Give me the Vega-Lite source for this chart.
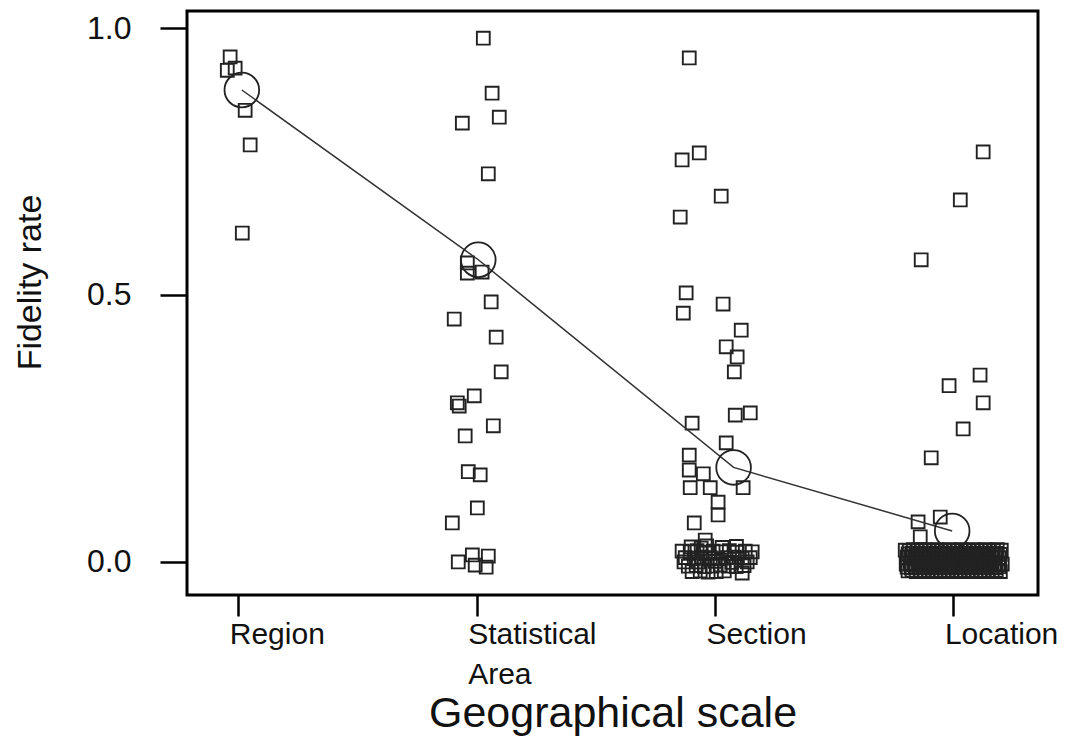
{
  "$schema": "https://vega.github.io/schema/vega-lite/v6.json",
  "width": 851,
  "height": 584,
  "autosize": {"type": "none"},
  "padding": {"left": 187, "top": 11, "right": 27, "bottom": 155},
  "background": "white",
  "config": {
    "view": {"stroke": "black", "strokeWidth": 3},
    "font": "Liberation Sans",
    "axis": {"grid": false, "domain": false, "tickColor": "black", "tickWidth": 2.5, "labelColor": "#111", "titleColor": "#111", "labelFont": "Liberation Sans", "titleFont": "Liberation Sans", "titleFontWeight": "normal"}
  },
  "layer": [
    {
      "data": {"values": [
        {"x": 0.966, "y": 0.946}, {"x": 0.954, "y": 0.921}, {"x": 0.987, "y": 0.925}, {"x": 1.029, "y": 0.846}, {"x": 1.050, "y": 0.781}, {"x": 1.017, "y": 0.616},
        {"x": 2.028, "y": 0.981}, {"x": 2.065, "y": 0.878}, {"x": 2.095, "y": 0.833}, {"x": 1.940, "y": 0.822}, {"x": 2.049, "y": 0.727},
        {"x": 1.961, "y": 0.560}, {"x": 1.961, "y": 0.541}, {"x": 2.023, "y": 0.543}, {"x": 2.061, "y": 0.487}, {"x": 1.906, "y": 0.455},
        {"x": 2.082, "y": 0.421}, {"x": 2.103, "y": 0.356}, {"x": 1.990, "y": 0.311}, {"x": 1.919, "y": 0.298}, {"x": 1.927, "y": 0.292},
        {"x": 2.070, "y": 0.255}, {"x": 1.952, "y": 0.236}, {"x": 1.965, "y": 0.169}, {"x": 2.015, "y": 0.163}, {"x": 2.003, "y": 0.101},
        {"x": 1.898, "y": 0.073}, {"x": 1.982, "y": 0.013}, {"x": 2.049, "y": 0.011}, {"x": 1.923, "y": 0.000}, {"x": 1.994, "y": -0.006}, {"x": 2.040, "y": -0.010},
        {"x": 2.892, "y": 0.944}, {"x": 2.862, "y": 0.753}, {"x": 2.934, "y": 0.766}, {"x": 3.026, "y": 0.685}, {"x": 2.854, "y": 0.646},
        {"x": 2.879, "y": 0.504}, {"x": 2.867, "y": 0.466}, {"x": 3.034, "y": 0.483}, {"x": 3.110, "y": 0.434}, {"x": 3.047, "y": 0.403},
        {"x": 3.093, "y": 0.384}, {"x": 3.081, "y": 0.356}, {"x": 3.085, "y": 0.275}, {"x": 3.148, "y": 0.279}, {"x": 2.904, "y": 0.260},
        {"x": 3.047, "y": 0.223}, {"x": 2.892, "y": 0.200}, {"x": 2.892, "y": 0.172}, {"x": 2.951, "y": 0.165}, {"x": 2.896, "y": 0.139},
        {"x": 2.980, "y": 0.139}, {"x": 3.118, "y": 0.139}, {"x": 3.013, "y": 0.112}, {"x": 3.013, "y": 0.088}, {"x": 2.913, "y": 0.073},
        {"x": 2.959, "y": 0.041}, {"x": 2.942, "y": 0.026},
        {"x": 2.900, "y": 0.028}, {"x": 2.965, "y": 0.030}, {"x": 3.030, "y": 0.027}, {"x": 3.090, "y": 0.029},
        {"x": 2.870, "y": 0.000}, {"x": 2.930, "y": 0.000}, {"x": 3.000, "y": 0.001}, {"x": 3.070, "y": -0.001}, {"x": 3.135, "y": 0.000},
        {"x": 2.862, "y": 0.020}, {"x": 2.896, "y": 0.019}, {"x": 2.925, "y": 0.021}, {"x": 2.959, "y": 0.018}, {"x": 2.992, "y": 0.020},
        {"x": 3.026, "y": 0.019}, {"x": 3.060, "y": 0.021}, {"x": 3.093, "y": 0.018}, {"x": 3.127, "y": 0.020}, {"x": 3.156, "y": 0.019},
        {"x": 2.875, "y": 0.008}, {"x": 2.913, "y": 0.007}, {"x": 2.946, "y": 0.009}, {"x": 2.980, "y": 0.008}, {"x": 3.013, "y": 0.006},
        {"x": 3.047, "y": 0.008}, {"x": 3.081, "y": 0.009}, {"x": 3.114, "y": 0.007}, {"x": 3.148, "y": 0.008},
        {"x": 2.888, "y": -0.008}, {"x": 2.921, "y": -0.007}, {"x": 2.955, "y": -0.009}, {"x": 2.988, "y": -0.008}, {"x": 3.022, "y": -0.006},
        {"x": 3.055, "y": -0.008}, {"x": 3.089, "y": -0.009}, {"x": 3.122, "y": -0.007},
        {"x": 2.904, "y": -0.018}, {"x": 2.938, "y": -0.017}, {"x": 2.971, "y": -0.019}, {"x": 3.005, "y": -0.018}, {"x": 3.039, "y": -0.017}, {"x": 3.114, "y": -0.021},
        {"x": 4.125, "y": 0.768}, {"x": 4.029, "y": 0.678}, {"x": 3.865, "y": 0.566}, {"x": 4.112, "y": 0.350}, {"x": 3.982, "y": 0.330},
        {"x": 4.125, "y": 0.298}, {"x": 4.041, "y": 0.249}, {"x": 3.907, "y": 0.195}, {"x": 3.852, "y": 0.075}, {"x": 3.945, "y": 0.084}, {"x": 3.861, "y": 0.047},
        {"x": 3.798, "y": 0.022}, {"x": 3.815, "y": 0.021}, {"x": 3.832, "y": 0.023}, {"x": 3.848, "y": 0.022}, {"x": 3.865, "y": 0.021},
        {"x": 3.882, "y": 0.023}, {"x": 3.899, "y": 0.022}, {"x": 3.916, "y": 0.021}, {"x": 3.932, "y": 0.023}, {"x": 3.949, "y": 0.022},
        {"x": 3.966, "y": 0.021}, {"x": 3.983, "y": 0.023}, {"x": 4.000, "y": 0.022}, {"x": 4.016, "y": 0.021}, {"x": 4.033, "y": 0.023},
        {"x": 4.050, "y": 0.022}, {"x": 4.067, "y": 0.021}, {"x": 4.084, "y": 0.023}, {"x": 4.100, "y": 0.022}, {"x": 4.117, "y": 0.021},
        {"x": 4.134, "y": 0.023}, {"x": 4.151, "y": 0.022}, {"x": 4.168, "y": 0.021}, {"x": 4.184, "y": 0.023}, {"x": 4.201, "y": 0.022},
        {"x": 3.810, "y": 0.015}, {"x": 3.827, "y": 0.016}, {"x": 3.844, "y": 0.014}, {"x": 3.861, "y": 0.015}, {"x": 3.878, "y": 0.016},
        {"x": 3.895, "y": 0.014}, {"x": 3.911, "y": 0.015}, {"x": 3.928, "y": 0.016}, {"x": 3.945, "y": 0.014}, {"x": 3.962, "y": 0.015},
        {"x": 3.979, "y": 0.016}, {"x": 3.995, "y": 0.014}, {"x": 4.012, "y": 0.015}, {"x": 4.029, "y": 0.016}, {"x": 4.046, "y": 0.014},
        {"x": 4.063, "y": 0.015}, {"x": 4.079, "y": 0.016}, {"x": 4.096, "y": 0.014}, {"x": 4.113, "y": 0.015}, {"x": 4.130, "y": 0.016},
        {"x": 4.147, "y": 0.014}, {"x": 4.163, "y": 0.015}, {"x": 4.180, "y": 0.016}, {"x": 4.197, "y": 0.014},
        {"x": 3.806, "y": 0.009}, {"x": 3.823, "y": 0.010}, {"x": 3.840, "y": 0.008}, {"x": 3.857, "y": 0.009}, {"x": 3.874, "y": 0.010},
        {"x": 3.890, "y": 0.008}, {"x": 3.907, "y": 0.009}, {"x": 3.924, "y": 0.010}, {"x": 3.941, "y": 0.008}, {"x": 3.958, "y": 0.009},
        {"x": 3.974, "y": 0.010}, {"x": 3.991, "y": 0.008}, {"x": 4.008, "y": 0.009}, {"x": 4.025, "y": 0.010}, {"x": 4.042, "y": 0.008},
        {"x": 4.058, "y": 0.009}, {"x": 4.075, "y": 0.010}, {"x": 4.092, "y": 0.008}, {"x": 4.109, "y": 0.009}, {"x": 4.126, "y": 0.010},
        {"x": 4.142, "y": 0.008}, {"x": 4.159, "y": 0.009}, {"x": 4.176, "y": 0.010}, {"x": 4.193, "y": 0.008},
        {"x": 3.802, "y": -0.004}, {"x": 3.819, "y": -0.003}, {"x": 3.836, "y": -0.005}, {"x": 3.853, "y": -0.004}, {"x": 3.869, "y": -0.003},
        {"x": 3.886, "y": -0.005}, {"x": 3.903, "y": -0.004}, {"x": 3.920, "y": -0.003}, {"x": 3.937, "y": -0.005}, {"x": 3.953, "y": -0.004},
        {"x": 3.970, "y": -0.003}, {"x": 3.987, "y": -0.005}, {"x": 4.004, "y": -0.004}, {"x": 4.021, "y": -0.003}, {"x": 4.037, "y": -0.005},
        {"x": 4.054, "y": -0.004}, {"x": 4.071, "y": -0.003}, {"x": 4.088, "y": -0.005}, {"x": 4.105, "y": -0.004}, {"x": 4.121, "y": -0.003},
        {"x": 4.138, "y": -0.005}, {"x": 4.155, "y": -0.004}, {"x": 4.172, "y": -0.003}, {"x": 4.189, "y": -0.005}, {"x": 4.205, "y": -0.004},
        {"x": 3.806, "y": -0.010}, {"x": 3.823, "y": -0.011}, {"x": 3.840, "y": -0.009}, {"x": 3.857, "y": -0.010}, {"x": 3.874, "y": -0.011},
        {"x": 3.890, "y": -0.009}, {"x": 3.907, "y": -0.010}, {"x": 3.924, "y": -0.011}, {"x": 3.941, "y": -0.009}, {"x": 3.958, "y": -0.010},
        {"x": 3.974, "y": -0.011}, {"x": 3.991, "y": -0.009}, {"x": 4.008, "y": -0.010}, {"x": 4.025, "y": -0.011}, {"x": 4.042, "y": -0.009},
        {"x": 4.058, "y": -0.010}, {"x": 4.075, "y": -0.011}, {"x": 4.092, "y": -0.009}, {"x": 4.109, "y": -0.010}, {"x": 4.126, "y": -0.011},
        {"x": 4.142, "y": -0.009}, {"x": 4.159, "y": -0.010}, {"x": 4.176, "y": -0.011}, {"x": 4.193, "y": -0.009},
        {"x": 3.810, "y": -0.017}, {"x": 3.827, "y": -0.016}, {"x": 3.844, "y": -0.018}, {"x": 3.861, "y": -0.017}, {"x": 3.878, "y": -0.016},
        {"x": 3.895, "y": -0.018}, {"x": 3.911, "y": -0.017}, {"x": 3.928, "y": -0.016}, {"x": 3.945, "y": -0.018}, {"x": 3.962, "y": -0.017},
        {"x": 3.979, "y": -0.016}, {"x": 3.995, "y": -0.018}, {"x": 4.012, "y": -0.017}, {"x": 4.029, "y": -0.016}, {"x": 4.046, "y": -0.018},
        {"x": 4.063, "y": -0.017}, {"x": 4.079, "y": -0.016}, {"x": 4.096, "y": -0.018}, {"x": 4.113, "y": -0.017}, {"x": 4.130, "y": -0.016},
        {"x": 4.147, "y": -0.018}, {"x": 4.163, "y": -0.017}, {"x": 4.180, "y": -0.016}, {"x": 4.197, "y": -0.018}
      ]},
      "mark": {"type": "point", "shape": "square", "filled": false, "size": 165, "stroke": "#222", "strokeWidth": 1.9, "opacity": 1},
      "encoding": {
        "x": {"field": "x", "type": "quantitative", "scale": {"domain": [0.785, 4.355], "nice": false, "zero": false},
          "axis": {"values": [1, 2, 3, 4], "title": "Geographical scale", "tickSize": 21, "labelFontSize": 30, "labelAlign": "left", "labelOffset": -9, "labelBaseline": "top", "labelPadding": 3, "labelLineHeight": 40, "labelFlush": false, "labelOverlap": false, "labelBound": false,
            "labelExpr": "datum.value == 1 ? 'Region' : datum.value == 2 ? ['Statistical', 'Area'] : datum.value == 3 ? 'Section' : 'Location'",
            "titleFontSize": 43, "titlePadding": 3}},
        "y": {"field": "y", "type": "quantitative", "scale": {"domain": [-0.062, 1.032], "nice": false, "zero": false},
          "axis": {"values": [0, 0.5, 1], "format": ".1f", "title": "Fidelity rate", "tickSize": 27, "labelFontSize": 32, "labelPadding": 29, "titleFontSize": 34, "titlePadding": 39, "titleY": 271}}
      }
    },
    {
      "data": {"values": [
        {"x": 1.015, "y": 0.884}, {"x": 2.007, "y": 0.566}, {"x": 3.078, "y": 0.177}, {"x": 3.995, "y": 0.058}
      ]},
      "layer": [
        {"mark": {"type": "line", "color": "#333", "strokeWidth": 1.5}, "encoding": {"x": {"field": "x", "type": "quantitative"}, "y": {"field": "y", "type": "quantitative"}}},
        {"mark": {"type": "point", "shape": "circle", "filled": false, "size": 1200, "stroke": "#222", "strokeWidth": 1.8, "opacity": 1}, "encoding": {"x": {"field": "x", "type": "quantitative"}, "y": {"field": "y", "type": "quantitative"}}}
      ]
    }
  ]
}
